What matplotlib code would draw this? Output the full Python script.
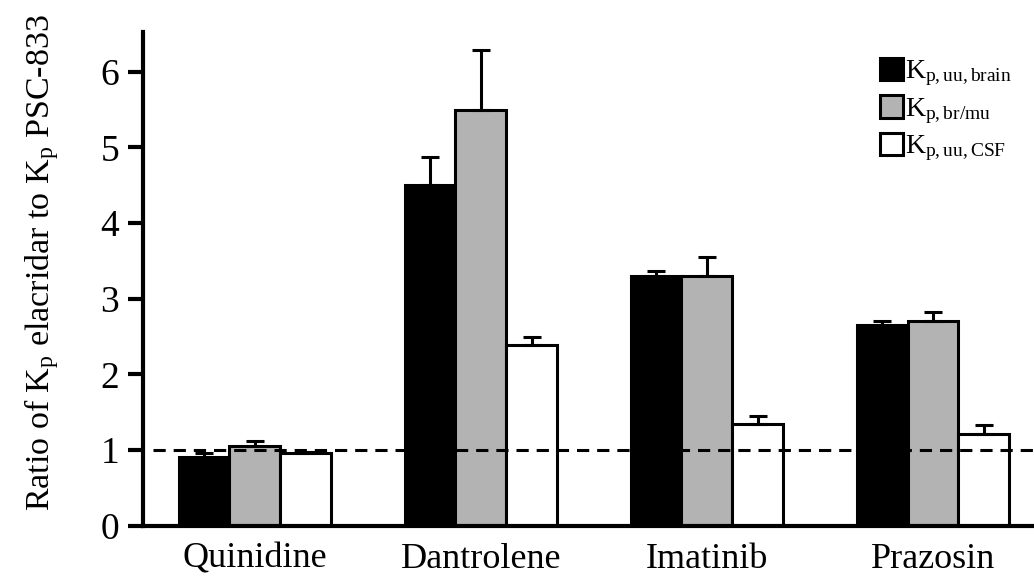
import numpy as np
import matplotlib.pyplot as plt
from matplotlib.patches import Patch

plt.rcParams['font.family'] = 'Liberation Serif'
plt.rcParams['mathtext.fontset'] = 'custom'
plt.rcParams['mathtext.rm'] = 'Liberation Serif'
plt.rcParams['mathtext.it'] = 'Liberation Serif'

drugs = ["Quinidine", "Dantrolene", "Imatinib", "Prazosin"]
kp_brain = [0.91, 4.50, 3.30, 2.66]
kp_brain_err = [0.05, 0.37, 0.07, 0.04]
kp_brmu = [1.06, 5.49, 3.30, 2.71]
kp_brmu_err = [0.06, 0.80, 0.25, 0.12]
kp_csf = [0.96, 2.39, 1.35, 1.22]
kp_csf_err = [0.02, 0.11, 0.10, 0.11]

fig = plt.figure(figsize=(10.34, 5.81), dpi=100)
ax = fig.add_axes([0.138, 0.0947, 0.862, 0.850])

x = np.arange(len(drugs))
w = 0.225
series = [
    (kp_brain, kp_brain_err, "black", r"K$_{\mathrm{p,uu,brain}}$"),
    (kp_brmu, kp_brmu_err, "#b3b3b3", r"K$_{\mathrm{p,br/mu}}$"),
    (kp_csf, kp_csf_err, "white", r"K$_{\mathrm{p,uu,CSF}}$"),
]
for i, (vals, errs, col, lab) in enumerate(series):
    pos = x + (i - 1) * w
    ax.bar(pos, vals, w, color=col, edgecolor="black", linewidth=2.2, zorder=2)
    ax.errorbar(pos, vals, yerr=[np.zeros(len(errs)), errs], fmt="none",
                ecolor="black", elinewidth=2.2, capsize=6.5, capthick=2.2, zorder=3)

# reference level: equal ratio
ax.axhline(1, xmin=0.012, color="black", linestyle=(0, (4, 2.6)), linewidth=2.2, zorder=4)

ax.set_xlim(-0.496, 3.447)
ax.set_ylim(0, 6.52)
ax.set_yticks(range(7))
ax.set_xticks(x)
ax.set_xticklabels(drugs, fontsize=26)
ax.tick_params(axis="x", length=0, pad=12)
ax.tick_params(axis="y", length=11, width=3, labelsize=27, pad=6)
for s in ["top", "right"]:
    ax.spines[s].set_visible(False)
ax.spines["left"].set_linewidth(3)
ax.spines["bottom"].set_linewidth(3)

ax.set_ylabel(r"Ratio of K$_{\mathrm{p}}$ elacridar to K$_{\mathrm{p}}$ PSC-833",
              fontsize=24.5)
ax.yaxis.set_label_coords(-0.092, 0.534)

handles = [Patch(facecolor=c, edgecolor="black", linewidth=2.2, label=l)
           for _, _, c, l in series]
leg = ax.legend(handles=handles, loc="upper left", bbox_to_anchor=(0.827, 0.948),
                frameon=False, fontsize=20, handlelength=0.85, handleheight=0.85,
                handletextpad=0.05, labelspacing=0.25, borderaxespad=0.0,
                borderpad=0.0)

fig.savefig("out.png", dpi=100)
